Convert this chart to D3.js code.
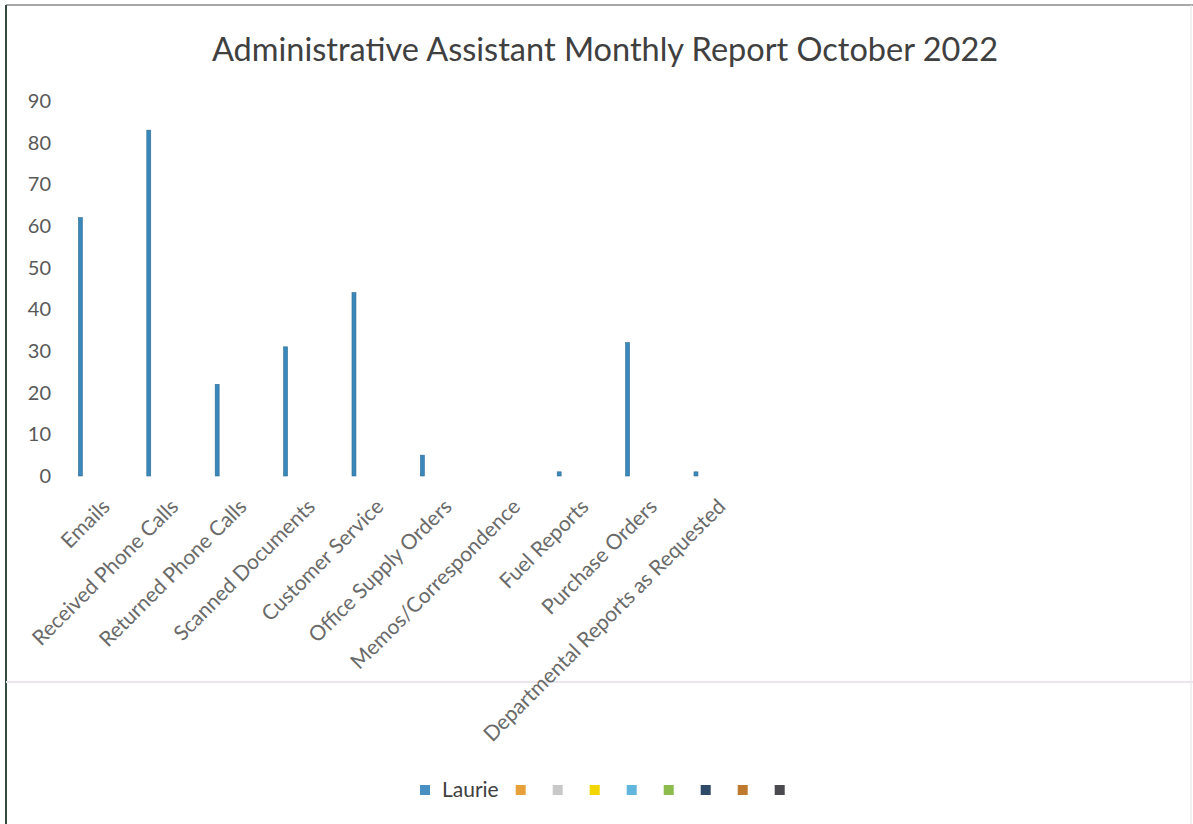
<!DOCTYPE html>
<html>
<head>
<meta charset="utf-8">
<script src="https://cdn.jsdelivr.net/npm/d3@7"></script>
<style>
  body { margin: 0; background: #fff; }
  svg { display: block; font-family: Lato, "Open Sans", sans-serif; }
</style>
</head>
<body>
<svg id="chart"></svg>
<script>
const categories = [
  "Emails",
  "Received Phone Calls",
  "Returned Phone Calls",
  "Scanned Documents",
  "Customer Service",
  "Office Supply Orders",
  "Memos/Correspondence",
  "Fuel Reports",
  "Purchase Orders",
  "Departmental Reports as Requested"
];
const laurie = [62, 83, 22, 31, 44, 5, 0, 1, 32, 1];

const seriesNames = ["Laurie", "", "", "", "", "", "", "", ""];
const seriesColors = ["#4a8fc2", "#e8a13a", "#c8c8c8", "#f3d500", "#62b5dc", "#8cbb4e", "#2e4a68", "#c07a30", "#4a4a50"];
const yTicks = [0, 10, 20, 30, 40, 50, 60, 70, 80, 90];

const width = 1193;
const height = 824;

let svg = d3.select("#chart").attr("width", width).attr("height", height);

// page / scan frame
svg.append("rect").attr("width", width).attr("height", height).attr("fill", "#fff");
svg.append("line").attr("x1", 6).attr("x2", width).attr("y1", 5).attr("y2", 5)
  .attr("stroke", "#8a8a8a").attr("stroke-width", 1.5);
svg.append("line").attr("x1", 6).attr("x2", 6).attr("y1", 5).attr("y2", height)
  .attr("stroke", "#344a3e").attr("stroke-width", 2);
svg.append("line").attr("x1", 1191).attr("x2", 1191).attr("y1", 5).attr("y2", height)
  .attr("stroke", "#e2e2e2").attr("stroke-width", 1);
svg.append("line").attr("x1", 6).attr("x2", width).attr("y1", 682).attr("y2", 682)
  .attr("stroke", "#ebe6ee").attr("stroke-width", 2);

// title
svg.append("text")
  .attr("x", 605).attr("y", 61)
  .attr("text-anchor", "middle")
  .attr("font-size", 32.5)
  .attr("fill", "#404040")
  .text("Administrative Assistant Monthly Report October 2022");

let y = d3.scaleLinear().domain([0, 90]).range([476, 101]);

let x = d3.scaleBand().domain(categories).range([75, 759]);
let x1 = d3.scaleBand()
  .domain(d3.range(seriesNames.length))
  .range([0, x.bandwidth()])
  .paddingInner(0.45)
  .paddingOuter(0.47);

// y axis labels only (no line, no ticks)
let yAxis = svg.append("g")
  .attr("transform", "translate(51,0)")
  .call(d3.axisLeft(y).tickValues(yTicks).tickSize(0).tickPadding(0));
yAxis.select(".domain").remove();
yAxis.selectAll("text")
  .attr("font-family", "Lato, sans-serif")
  .attr("font-size", 20)
  .attr("fill", "#595959");

// bars for Laurie
svg.append("g")
  .selectAll("rect")
  .data(categories.map((c, i) => ({ cat: c, value: laurie[i] })))
  .enter()
  .append("rect")
  .attr("x", (d) => x(d.cat) + x1(0))
  .attr("width", x1.bandwidth())
  .attr("y", (d) => y(d.value))
  .attr("height", (d) => y(0) - y(d.value))
  .attr("fill", "#3a88bb")
  .attr("stroke", "#2f6c94")
  .attr("stroke-width", 0.6);

// category labels
svg.append("g")
  .selectAll("text")
  .data(categories)
  .enter()
  .append("text")
  .attr("transform", (c) => "translate(" + (x(c) + x.bandwidth() / 2 + 2) + ",508) rotate(-45)")
  .attr("text-anchor", "end")
  .attr("font-size", 21)
  .attr("fill", "#6a6a6a")
  .text((c) => c);

// legend
let legend = svg.append("g");
let cursor = 0;
seriesNames.forEach((name, i) => {
  legend.append("rect")
    .attr("x", cursor).attr("y", -5)
    .attr("width", 10).attr("height", 10)
    .attr("fill", seriesColors[i]);
  cursor += 10 + (name ? 12 : 10);
  let t = legend.append("text")
    .attr("x", cursor).attr("y", 7)
    .attr("font-size", 21)
    .attr("fill", "#404040")
    .text(name);
  cursor += t.node().getComputedTextLength() + 17;
});
legend.attr("transform", "translate(420,790)");
</script>
</body>
</html>
